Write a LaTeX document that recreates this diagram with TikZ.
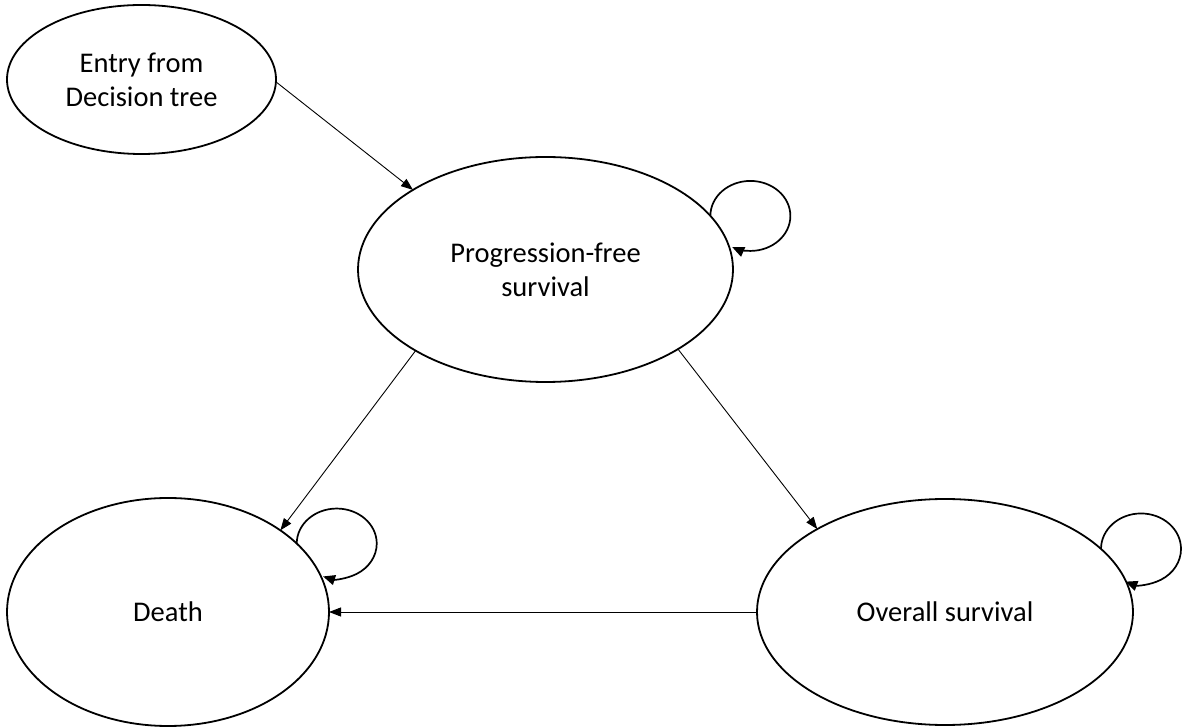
\documentclass[tikz,border=0pt]{standalone}
\usepackage{fontspec}
\setmainfont{Carlito}
\usetikzlibrary{arrows.meta,shapes.geometric}
\begin{document}
\begin{tikzpicture}[x=1pt,y=1pt,
  state/.style={ellipse, draw, line width=1.8pt, inner sep=0pt, outer sep=0pt,
    align=center, font=\fontsize{28.5}{34}\selectfont},
  flow/.style={line width=0.9pt, -{Triangle[length=12pt,width=9pt]}},
  selfloop/.style={line width=1.7pt, -{Triangle[length=12pt,width=10pt]}}]
\useasboundingbox (0,0) rectangle (1184,726);

% states of the model
\node[state, minimum width=269pt, minimum height=149pt] (entry) at (141.5,646.5) {Entry from\\Decision tree};
\node[state, minimum width=375pt, minimum height=225pt] (pfs) at (545.5,456.5) {Progression-free\\survival};
\node[state, minimum width=322pt, minimum height=228pt] (death) at (168,114) {Death};
\node[state, minimum width=376pt, minimum height=226pt] (os) at (945,114) {Overall survival};

% transitions between states
\draw[flow] (entry.-1.5) -- (pfs.149.2);
\draw[flow] (pfs.212.2) -- (death.36.5);
\draw[flow] (pfs.-31.3) -- (os.147.7);
\draw[flow] (os.west) -- (death.east);

% remaining in the same state
\draw[selfloop] (pfs.18.3) arc[start angle=180, end angle=-117, x radius=40, y radius=35];
\draw[selfloop] (death.28.3) arc[start angle=180, end angle=-110, x radius=40, y radius=35];
\draw[selfloop] (os.22.5) arc[start angle=180, end angle=-113, x radius=40, y radius=35.5];
\end{tikzpicture}
\end{document}
